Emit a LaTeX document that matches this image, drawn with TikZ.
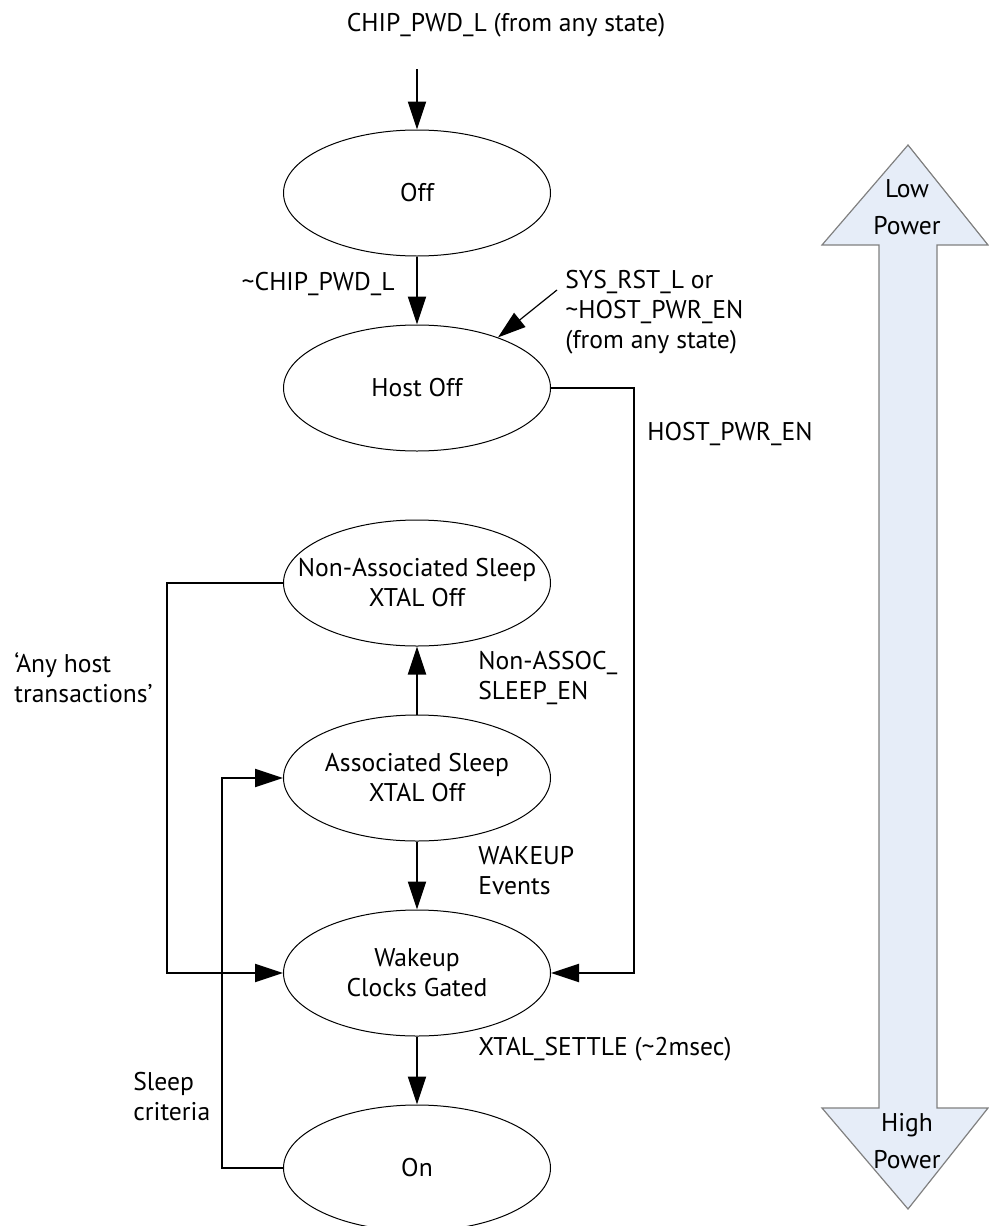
\documentclass[tikz,border=0pt]{standalone}
\usepackage{fontspec}
\setmainfont{PT Sans}
\usepackage{tikz}
\usetikzlibrary{positioning,arrows.meta,shapes.geometric}
\definecolor{pwrfill}{RGB}{230,237,248}
\definecolor{pwrline}{RGB}{128,128,128}

\begin{document}
\begin{tikzpicture}[
    x=0.5pt, y=-0.5pt,
    every node/.style={font=\fontsize{12.8}{15}\selectfont},
    state/.style={draw, ellipse, line width=0.5pt, minimum width=133.5pt, minimum height=63pt, inner sep=0pt, align=center},
    arr/.style={-{Triangle[length=14pt, width=9pt]}, line width=1pt},
    lbl/.style={inner sep=0pt, align=left},
    node distance=34pt
]
\useasboundingbox (0,0) rectangle (989,1226);

% states
\node[state] (off) at (417,193) {Off};
\node[state, below=of off] (host) {Host Off};
\node[state, inner xsep=-22pt, below=of host] (nonassoc) {Non-Associated Sleep\\XTAL Off};
\node[state, below=of nonassoc] (assoc) {Associated Sleep\\XTAL Off};
\node[state, below=of assoc] (wake) {Wakeup\\Clocks Gated};
\node[state, below=of wake] (on) {On};

% transitions
\coordinate (pwd) at (417,69);
\coordinate (rst) at (557,290);
\draw[arr] (pwd) -- (off);
\draw[arr] (off) -- (host);
\draw[arr, line width=0.6pt] (rst) -- (host.32);
\draw[arr] (host.east) -- ++(83,0) |- (wake.east);
\draw[arr] (assoc) -- (nonassoc);
\draw[arr] (nonassoc.west) -- ++(-116,0) |- (wake.west);
\draw[arr] (assoc) -- (wake);
\draw[arr] (wake) -- (on);
\draw[arr] (on.west) -- ++(-61,0) |- (assoc.west);

% labels
\node (chippwd) at (506,25) {CHIP\_PWD\_L (from any state)};
\node[lbl, anchor=east] (notpwd) at (395,284) {\textasciitilde CHIP\_PWD\_L};
\node[lbl, anchor=west] (rstlbl) at (565,312) {SYS\_RST\_L or\\\textasciitilde HOST\_PWR\_EN\\(from any state)};
\node[lbl, anchor=west] (hpe) at (647,434) {HOST\_PWR\_EN};
\node[lbl, anchor=west] (anyhost) at (14,678) {`Any host\\transactions'};
\node[lbl, anchor=west] (nasen) at (478,678) {Non-ASSOC\_\\SLEEP\_EN};
\node[lbl, anchor=west] (wkev) at (478,871) {WAKEUP\\Events};
\node[lbl, anchor=west] (settle) at (478,1049) {XTAL\_SETTLE (\textasciitilde 2msec)};
\node[lbl, anchor=west] (sleepcrit) at (133,1097) {Sleep\\criteria};

% power scale
\draw[pwrline, fill=pwrfill, line width=0.6pt]
    (908,145) -- (988,245) -- (937,245) -- (937,1108) -- (988,1108) -- (908,1209)
    -- (822,1108) -- (879,1108) -- (879,245) -- (822,245) -- cycle;
\node[align=center, font=\fontsize{12.8}{18.5}\selectfont] (low) at (907,207) {Low\\Power};
\node[align=center, font=\fontsize{12.8}{18.5}\selectfont] (high) at (907,1141) {High\\Power};
\end{tikzpicture}
\end{document}
